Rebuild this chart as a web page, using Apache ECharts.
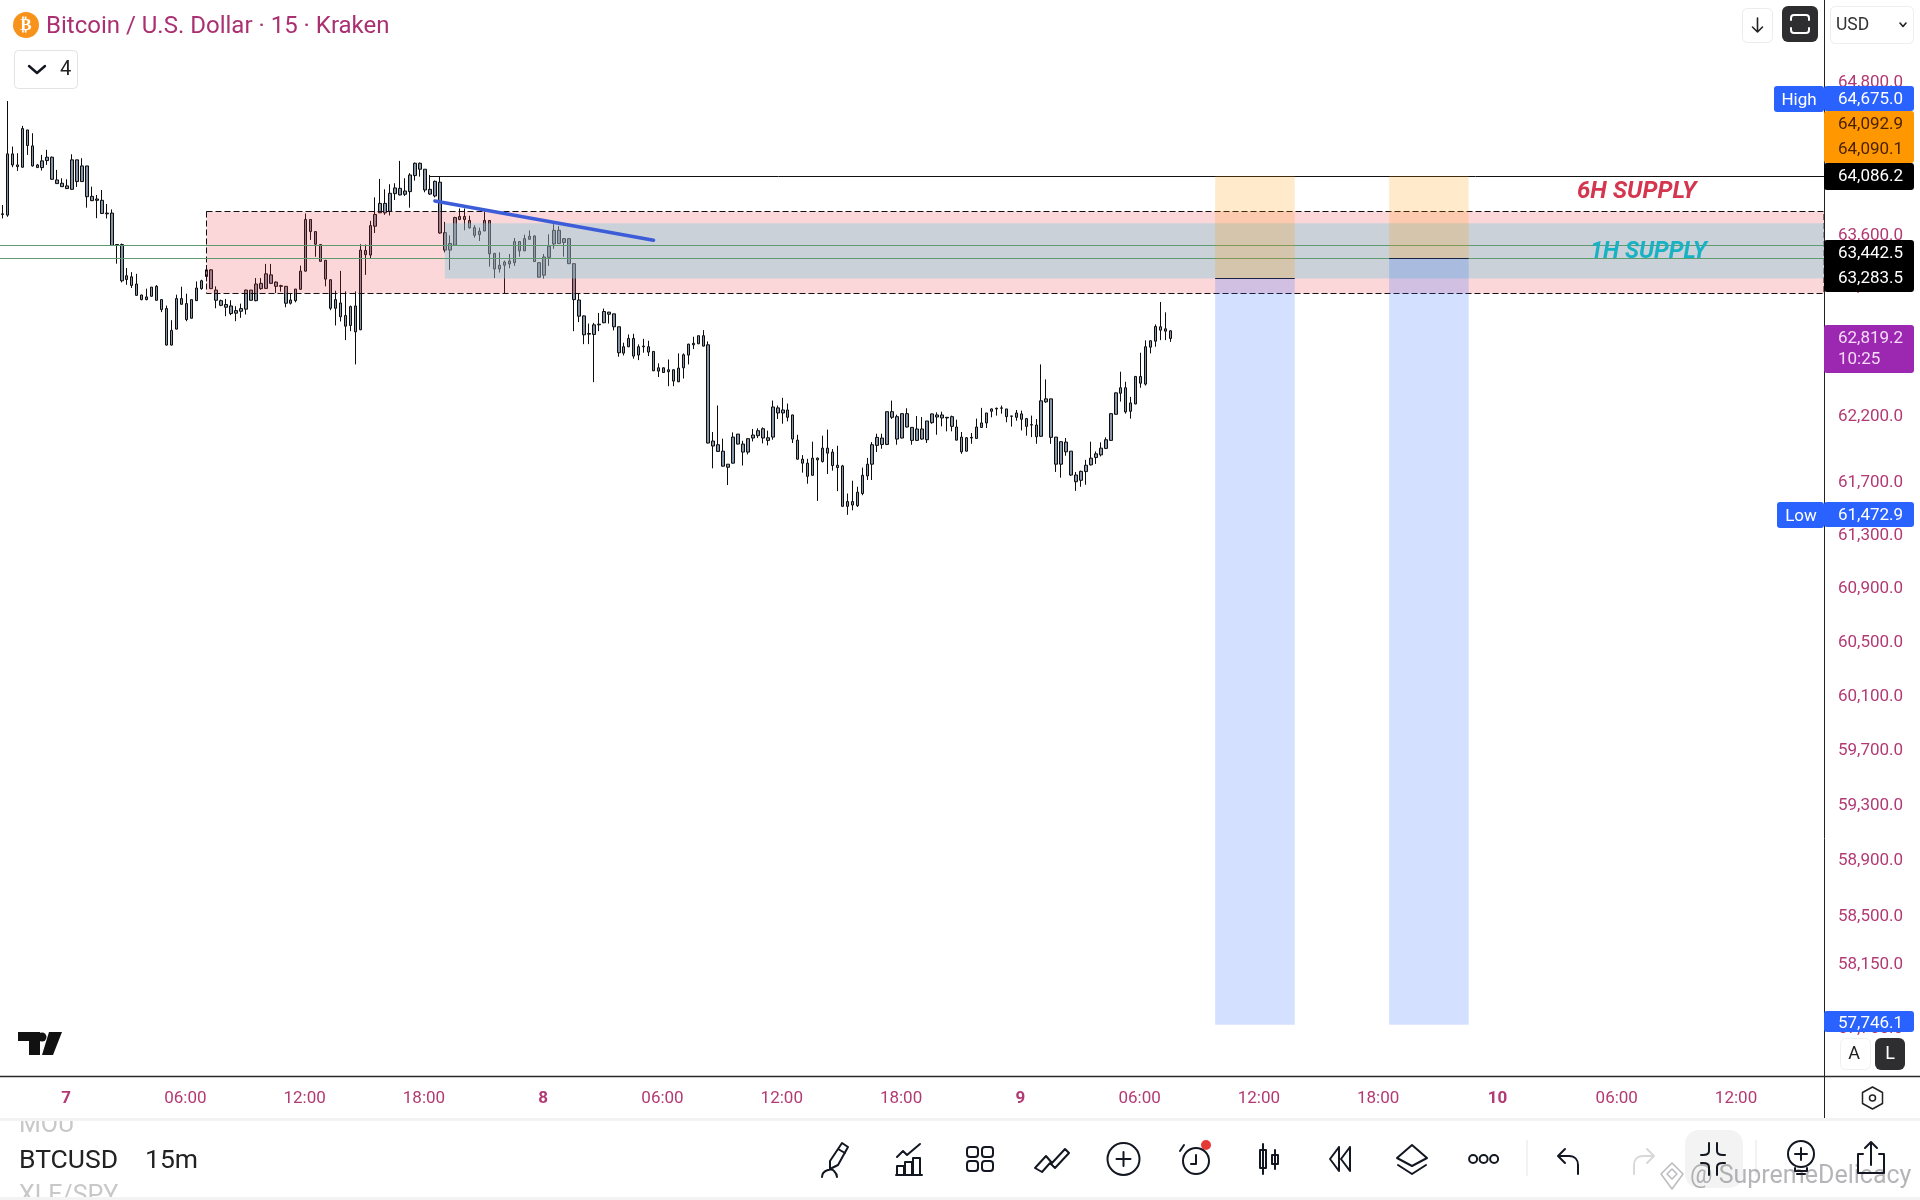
<!DOCTYPE html>
<html><head><meta charset="utf-8">
<style>html,body{margin:0;padding:0;background:#fff}#c{width:1920px;height:1200px}</style>
<script src="https://cdn.jsdelivr.net/npm/echarts@6/dist/echarts.min.js"></script>
</head><body><div id="c"></div>
<script>
const opens=[63768,63758,64239,64152,64134,64428,64302,64152,64131,64186,64213,64034,64008,63987,63960,64192,64021,64144,63905,63884,63874,63774,63774,63528,63528,63256,63277,63221,63136,63100,63126,63203,63100,63031,62749,62872,63108,63069,62956,63092,63185,63279,63331,63174,63092,63062,63051,63015,63010,63026,63174,63092,63226,63187,63292,63236,63208,63203,63097,63092,63180,63321,63724,63629,63528,63405,63254,63033,63074,62977,62900,63051,62867,63482,63446,63671,63776,63850,63787,63926,63968,63921,63942,64068,64165,64118,63960,63908,64016,63621,63485,63523,63747,63747,63716,63660,63605,63634,63716,63459,63367,63367,63377,63387,63551,63479,63569,63595,63387,63290,63428,63533,63639,63574,63574,63379,63097,62974,62833,62831,62905,62921,63003,62990,62890,62687,62736,62800,62672,62741,62736,62700,62574,62574,62544,62559,62467,62574,62672,62751,62759,62821,62751,62014,61986,61937,61838,61846,62067,61991,61930,62037,62055,62108,62039,62044,62267,62228,62251,62213,62021,61876,61846,61754,61884,61858,61960,61930,61830,61825,61519,61555,61524,61616,61749,61838,61981,62037,61988,62238,62200,62037,62223,62118,62019,62106,62024,62154,62197,62213,62195,62200,62121,62044,61937,62037,62034,62118,62152,62241,62259,62264,62259,62205,62195,62221,62185,62139,62136,62050,62313,62336,62044,61838,62006,61937,61756,61716,61782,61833,61889,61909,61958,62019,62218,62379,62421,62241,62297,62508,62449,62733,62779,62890,62874,62859];
const closes=[63763,64239,64152,64139,64439,64305,64144,64131,64184,64213,64039,64005,63981,63966,64192,64021,64144,63902,63871,63874,63771,63768,63521,63523,63246,63285,63210,63133,63100,63121,63197,63095,63023,62749,62862,63108,63064,62946,63100,63190,63246,63331,63185,63095,63056,63041,62992,62995,63031,63174,63095,63221,63185,63300,63226,63203,63203,63072,63072,63182,63321,63724,63629,63531,63397,63259,63033,63100,62967,62895,63046,62851,63485,63449,63676,63763,63850,63776,63929,63971,63916,63947,64073,64165,64118,63955,63923,64023,63618,63485,63536,63739,63724,63724,63658,63600,63632,63716,63456,63338,63338,63392,63400,63551,63479,63574,63592,63395,63274,63431,63515,63639,63536,63544,63379,63100,62972,62828,62838,62905,62910,63008,62987,62890,62690,62736,62800,62664,62736,62736,62695,62551,62549,62538,62559,62472,62572,62674,62756,62762,62821,62741,61999,61976,61935,61823,61815,62044,61991,61930,62032,62060,62093,62037,62019,62274,62228,62251,62195,62029,61876,61846,61746,61884,61871,61960,61922,61828,61812,61519,61555,61529,61626,61754,61838,61986,62042,61988,62238,62195,62029,62223,62121,62019,62106,62029,62167,62221,62213,62190,62190,62126,62021,61932,62039,62042,62121,62152,62228,62259,62264,62267,62200,62203,62228,62180,62126,62136,62047,62321,62336,62042,61838,62009,61932,61756,61705,61784,61830,61884,61917,61960,62024,62223,62382,62421,62236,62305,62508,62456,62736,62782,62892,62864,62856,62800];
const lows=[63732,63745,64134,64105,64131,64231,64139,64129,64108,64152,64034,64002,63979,63963,63958,63979,64018,63816,63868,63734,63766,63732,63518,63379,63233,63215,63190,63131,63095,63095,63123,63092,63003,62746,62746,62869,63062,62933,62954,63090,63177,63241,63182,63033,63049,62972,62980,62933,62959,62985,63092,63087,63177,63185,63223,63151,63162,63041,63062,63079,63177,63318,63564,63433,63395,63203,63018,62900,62931,62787,62856,62600,62864,63292,63421,63618,63774,63760,63755,63876,63913,63908,63816,64029,64060,63937,63916,63897,63613,63467,63331,63521,63718,63639,63653,63582,63556,63632,63356,63267,63310,63151,63344,63362,63433,63477,63567,63392,63272,63264,63362,63495,63533,63433,63377,62856,62926,62756,62756,62464,62856,62918,62915,62862,62659,62669,62733,62644,62633,62690,62664,62549,62503,62536,62433,62433,62464,62492,62600,62718,62756,62738,61996,61807,61932,61820,61680,61843,61988,61828,61912,62011,62037,61996,61981,62024,62182,62146,62164,61999,61874,61774,61690,61751,61560,61851,61764,61789,61634,61517,61455,61489,61514,61603,61718,61718,61930,61955,61983,62182,61986,62034,62118,61986,62014,62024,61999,62146,62062,62126,62088,62088,62019,61917,61935,61993,62032,62116,62113,62195,62208,62223,62157,62124,62169,62095,62055,62044,61993,62047,62305,61993,61779,61736,61902,61749,61636,61667,61682,61828,61840,61897,61953,62016,62215,62315,62223,62185,62295,62421,62438,62685,62736,62787,62787,62774];
const highs=[63837,64657,64297,64244,64460,64428,64402,64160,64231,64271,64218,64113,64047,64039,64236,64192,64205,64144,63981,63916,63955,63845,63803,63531,63536,63346,63313,63300,63138,63185,63197,63213,63100,63054,62941,63138,63200,63146,63100,63241,63254,63369,63336,63203,63100,63105,63095,63049,63069,63177,63174,63267,63267,63377,63377,63241,63215,63205,63151,63182,63364,63771,63724,63632,63531,63408,63259,63169,63323,63164,63054,63164,63531,63528,63713,63897,64042,63960,64000,64008,64184,64047,64087,64171,64171,64118,64073,64029,64060,63705,63600,63745,63810,63810,63753,63679,63660,63787,63716,63459,63467,63403,63454,63579,63554,63605,63639,63600,63387,63454,63608,63687,63671,63579,63577,63382,63151,62977,62915,62920,62997,63031,63005,62990,62890,62767,62831,62836,62754,62797,62782,62700,62608,62577,62638,62562,62685,62685,62759,62813,62821,62864,62777,62083,62285,62032,61838,62080,62067,62016,62037,62106,62111,62118,62093,62323,62285,62344,62300,62215,62062,61907,61879,62009,61889,62055,62101,61953,61978,61833,61616,61713,61667,61812,61886,62006,62070,62070,62238,62323,62215,62223,62264,62121,62205,62197,62167,62223,62233,62238,62197,62208,62177,62083,62044,62075,62185,62267,62228,62262,62269,62285,62259,62205,62251,62246,62190,62208,62182,62600,62485,62336,62044,62011,62037,61937,61779,61789,61871,62009,61935,62004,62042,62226,62385,62544,62467,62351,62510,62690,62785,62785,62908,63082,63002,62862];
const priceTicks=[64800,64400,64000,63600,63200,62700,62200,61700,61300,60900,60500,60100,59700,59300,58900,58500,58150,57700];
const timeTickLabels=['7','06:00','12:00','18:00','8','06:00','12:00','18:00','9','06:00','12:00','18:00','10','06:00','12:00'];
const firstTickSlot=13, slotsPerTick=24, totalSlots=367;
const categories=[]; const tickOfCategory={};
for(let i=0;i<totalSlots;i++){const id='slot'+i;categories.push(id);
  const k=(i-firstTickSlot)/slotsPerTick;
  if(Number.isInteger(k)&&timeTickLabels[k]!==undefined) tickOfCategory[id]=timeTickLabels[k];}

const zone6H={start:41,top:63787,bottom:63152};
const zone1H={start:89,top:63695,bottom:63264};
const greenLevels=[63523,63423];
const stopLevel=64064, stopLineStart=86;
const targetLevel=57726;
const positions=[{from:244,to:260,entry:63265},{from:279,to:295,entry:63423}];
const trend={from:87,fromPrice:63868,to:131,toPrice:63562};

const annotations=[];
annotations.push({k:'rect',crisp:true,i0:zone6H.start,a:zone6H.top,b:zone6H.bottom,style:{fill:'rgba(242,54,69,0.2)',stroke:'#111',lineWidth:1,lineDash:[6,3]}});
annotations.push({k:'rect',i0:zone1H.start,a:zone1H.top,b:zone1H.bottom,style:{fill:'rgba(127,200,213,0.4)'}});
greenLevels.forEach(v=>annotations.push({k:'line',i0:0,a:v,b:v,full:true,style:{stroke:'#5f9a70',lineWidth:1}}));
annotations.push({k:'line',i0:stopLineStart,a:stopLevel,b:stopLevel,style:{stroke:'#111',lineWidth:1}});
positions.forEach(p=>{
  annotations.push({k:'rect',i0:p.from,i1:p.to,a:stopLevel,b:p.entry,style:{fill:'rgba(255,152,0,0.2)'}});
  annotations.push({k:'rect',i0:p.from,i1:p.to,a:p.entry,b:targetLevel,style:{fill:'rgba(41,98,255,0.2)'}});
  annotations.push({k:'line',i0:p.from,i1:p.to,a:p.entry,b:p.entry,style:{stroke:'#1c2340',lineWidth:1}});
});
annotations.push({k:'line',i0:trend.from,i1:trend.to,a:trend.fromPrice,b:trend.toPrice,style:{stroke:'#3c5cd8',lineWidth:3.5,lineCap:'round'}});

function renderAnnotation(params,api){
  const r=annotations[params.dataIndex], cs=params.coordSys;
  const p0=api.coord([r.i0,r.a]);
  const p1=api.coord([r.i1==null?totalSlots-1:r.i1,r.b]);
  const x0=r.full?cs.x:p0[0];
  const x1=r.i1==null?cs.x+cs.width:p1[0];
  if(r.k==='rect'){
    if(r.crisp){const X=Math.floor(x0)+.5,T=Math.round(p0[1])+.5,B=Math.round(p1[1])+.5;
      return {type:'rect',shape:{x:X,y:T,width:x1-X,height:B-T},style:r.style};}
    return {type:'rect',shape:{x:x0,y:p0[1],width:x1-x0,height:p1[1]-p0[1]},style:r.style};
  }
  const flat=r.a===r.b;
  const y0=flat?Math.round(p0[1])+.5:p0[1], y1=flat?y0:p1[1];
  return {type:'line',shape:{x1:x0,y1:y0,x2:x1,y2:y1},style:r.style};
}

const F='Roboto', MAG='#b23a74';
const g=[], iconEls=[];
function rect(x,y,w,h,fill,r,stroke){g.push({type:'rect',z:100,shape:{x,y,width:w,height:h,r:r||0},style:{fill:fill||'none',stroke:stroke||null,lineWidth:1}});}
function txt(x,y,t,size,fill,o){g.push({type:'text',z:100,x,y,style:Object.assign({text:t,fontFamily:F,fontSize:size,fill,verticalAlign:'middle',align:'left'},o||{})});}
function icon(x,y,d,stroke,lw,fill){iconEls.push({type:'path',x,y,shape:{pathData:d},style:{fill:fill||'none',stroke:stroke===undefined?'#131722':stroke,lineWidth:lw===undefined?2:lw,lineCap:'round',lineJoin:'round'}});}
function circ(x,y,r,fill,stroke,lw){g.push({type:'circle',z:100,shape:{cx:x,cy:y,r},style:{fill:fill||'none',stroke:stroke||null,lineWidth:lw||2}});}
function line(x1,y1,x2,y2,c,w){g.push({type:'line',z:100,shape:{x1,y1,x2,y2},style:{stroke:c,lineWidth:w||1}});}

// header
circ(26,25,13,'#f7931a');
txt(26,26,'₿',17,'#fff',{align:'center',fontFamily:'DejaVu Sans',fontWeight:'bold'});
txt(46,27,'Bitcoin / U.S. Dollar · 15 · Kraken',24,'#ab3071');
rect(14.5,50.5,63,38,'#fff',4,'#e3e3e3');
icon(37,69,'M-8,-3 L0,4 L8,-3','#131722',2.4);
txt(60,70,'4',20,'#222');
rect(1742.5,8.5,30,34,'#fff',5,'#ececec');
icon(1757.5,25,'M0,-7 V7 M-5,2 L0,7 L5,2','#222',1.6);
rect(1782,6,36,36,'#2e2e30',6);
icon(1800,24,'M-9,-4 V-6 C-9,-8 -8,-9 -6,-9 H6 C8,-9 9,-8 9,-6 V-4 M-9,4 V6 C-9,8 -8,9 -6,9 H6 C8,9 9,8 9,6 V4','#fff',2);
rect(1830.5,6.5,83,37,'#fff',5,'#ededed');
txt(1836,25.5,'USD',17.5,'#333');
icon(1903,25,'M-3,-2 L0,1.5 L3,-2','#222',1.6);

// structural lines
line(1824.5,0,1824.5,1118,'#222',1);
line(0,1076.5,1920,1076.5,'#2a2a2a',1.5);

// price tags
function tagBox(y,h,c){rect(1824,y,90,h,c,3);}
rect(1774,86,50,26,'#2962ff',3); txt(1799,100.5,'High',17,'#fff',{align:'center'});
tagBox(86,25,'#2962ff'); txt(1838,100,'64,675.0',17,'#fff');
tagBox(111,52,'#ff9800'); txt(1838,124.5,'64,092.9',17,'#4a2200'); txt(1838,150,'64,090.1',17,'#4a2200');
tagBox(163,27,'#000'); txt(1838,176.5,'64,086.2',17,'#fff');
tagBox(240,52,'#000'); txt(1838,253.5,'63,442.5',17,'#fff'); txt(1838,278.5,'63,283.5',17,'#fff');
tagBox(325,48,'#9c27b0'); txt(1838,338.5,'62,819.2',17,'#f6dcf9'); txt(1838,359.5,'10:25',17,'#f6dcf9');
rect(1777,502,47,26,'#2962ff',3); txt(1801,516.5,'Low',17,'#fff',{align:'center'});
tagBox(502,25,'#2962ff'); txt(1838,516,'61,472.9',17,'#fff');
tagBox(1011,21,'#2962ff'); txt(1838,1023.5,'57,746.1',17,'#fff');

// A / L
rect(1840.5,1038.5,30,31,'#fff',5,'#f0f0f0'); txt(1854,1054,'A',18,'#222',{align:'center'});
rect(1875,1038,30,32,'#2e2e30',6); txt(1890,1054,'L',18,'#fff',{align:'center'});
icon(1872.5,1098,'M0,-11 L10,-5.5 V5.5 L0,11 L-10,5.5 V-5.5 Z','#222',1.5);
circ(1872.5,1098,3,null,'#222',1.5);

// logo
icon(18,1032,'M0,0 H22 V23 H11 V9 H0 Z M31,0 H44 L35,23 H24 Z',null,0,'#111');
circ(44,1036.5,4.5,'#fff');
circ(42,1037,4.5,'#111');

// annotation text
txt(1577,192,'6H SUPPLY',24,'#d4364f',{fontWeight:'bold',fontStyle:'italic'});
txt(1590,252,'1H SUPPLY',23.5,'#17b2c4',{fontWeight:'bold',fontStyle:'italic'});

// bottom panel
txt(19,1126,'MOU',25,'#c8c8c8');
txt(19,1197,'XLE/SPY',25,'#c8c8c8');
rect(0,1108,200,11,'#fff');
rect(0,1118,1920,3,'#f3f3f3');
rect(0,1197,1920,3,'#f3f3f3');
txt(19,1161.5,'BTCUSD',26.5,'#222');
txt(145,1161.5,'15m',26.5,'#222');
const Y=1159;
icon(836,Y,'M6,-16 L12,-12 L2,6 L-6,10 L-6,2 Z M2,-10 L9,-6 M-14,18 C-14,11 -4,9 -2,12 C0,14 1,16 1,18');
icon(909,Y,'M-13,16 H13 M-12,16 V7 H-5 V16 M-4,16 V3 H3 V16 M4,16 V-1 H11 V16 M-12,-2 L-6,-8 L-2,-4 L11,-15');
[[-13,-12],[2,-12],[-13,2],[2,2]].forEach(o=>icon(980+o[0],Y+o[1],'M3,0 H8 Q11,0 11,3 V7 Q11,10 8,10 H3 Q0,10 0,7 V3 Q0,0 3,0 Z'));
icon(1052,Y,'M-17,9 L-6,-3 L0,4 L13,-10 L17,-6 L3,9 L-2,4 L-10,13 Z');
icon(1123.5,Y,'M16,0 A16,16 0 1 1 -16,0 A16,16 0 1 1 16,0 M-7,0 H7 M0,-7 V7');
icon(1196,Y+2,'M13,0 A13,13 0 1 1 -13,0 A13,13 0 1 1 13,0 M0,-6 V3 H-5 M-12,-16 L-16,-10');
circ(1206,Y-14,5,'#e53935');
icon(1269,Y,'M-6,-15 V15 M-9,-9 H-3 V9 H-9 Z M6,-9 V10 M3,-4 H9 V5 H3 Z');
icon(1341,Y,'M-2,-12 L-11,0 L-2,12 M9,-12 L0,0 L9,12 V-12 M-2,-12 V12','#131722',2);
icon(1412,Y,'M0,-14 L15,-1 L0,7 L-15,-1 Z M-14,6 L0,15 L14,6');
[-10.5,0,10.5].forEach(d=>circ(1483.6+d,Y,4,null,'#131722',2));
line(1527,1140,1527,1176,'#eee',1.5);
icon(1569,Y,'M9,15 V6 C9,1 6,-3 0,-3 H-10 M-4,-10 L-11,-3 L-4,4');
icon(1643,Y,'M-9,15 V6 C-9,1 -6,-3 0,-3 H10 M4,-10 L11,-3 L4,4','#d8d8d8');
rect(1685,1130,58,58,'#f3f3f3',14);
icon(1713,Y,'M-4,-16 V-8 C-4,-5 -7,-4 -10,-4 H-12 M4,-16 V-8 C4,-5 7,-4 10,-4 H12 M-4,16 V8 C-4,5 -7,4 -10,4 H-12 M4,16 V8 C4,5 7,4 10,4 H12');
line(1756,1140,1756,1176,'#eee',1.5);
icon(1801,Y,'M13,-5 A13,13 0 1 1 -13,-5 A13,13 0 1 1 13,-5 M-6,-5 H6 M0,-11 V1 M-6,9 V12 H6 V9 M-4,15 H4');
icon(1871,Y,'M-8,-5 H-13 V14 H13 V-5 H8 M0,6 V-17 M-6,-11 L0,-17 L6,-11');

// watermark
icon(1672,1176,'M0,-13 L11,-2 L0,13 L-11,-2 Z M-5,-2 L0,3 L5,-2 L0,-7 Z','rgba(120,120,125,.5)',1.5);
txt(1690,1177,'@ SupremeDelicacy',25,'rgba(120,120,125,.55)');

const chart=echarts.init(document.getElementById('c'),null,{renderer:'canvas',width:1920,height:1200});
chart.setOption({
  animation:false,
  backgroundColor:'#fff',
  grid:{left:-1.7,right:96,top:0,bottom:124,containLabel:false},
  tooltip:{show:false},
  xAxis:{type:'category',data:categories,boundaryGap:true,
    axisLine:{show:false},axisTick:{show:false},splitLine:{show:false},
    axisLabel:{interval:(i,v)=>tickOfCategory[v]!==undefined,margin:14,padding:[0,2,0,0],color:MAG,fontFamily:F,fontSize:17,hideOverlap:false,
      formatter:v=>{const t=tickOfCategory[v]||'';return /^\d+$/.test(t)?'{day|'+t+'}':t;},
      rich:{day:{fontFamily:F,fontSize:17,fontWeight:'bold',color:MAG}}}},
  yAxis:{type:'log',logBase:10,min:57364,max:65464,position:'right',
    axisLine:{show:false},axisTick:{show:false},splitLine:{show:false},
    axisLabel:{customValues:priceTicks,inside:false,margin:14,padding:[5,0,0,0],verticalAlign:'middle',color:MAG,fontFamily:F,fontSize:17,hideOverlap:false,
      formatter:v=>Number(v).toLocaleString('en-US',{minimumFractionDigits:1,maximumFractionDigits:1})}},
  series:[
    {type:'candlestick',z:2,barWidth:3,
      data:opens.map((o,i)=>[o,closes[i],lows[i],highs[i]]),
      itemStyle:{color:'#8494a6',color0:'#8494a6',borderColor:'#0c0c0c',borderColor0:'#0c0c0c',borderWidth:1},
      clip:true},
    {type:'custom',z:5,renderItem:renderAnnotation,clip:true,silent:true,
      encode:{x:0,y:1},data:annotations.map((a,i)=>[i,a.a])},
    {type:'custom',coordinateSystem:'none',z:200,silent:true,data:[[0]],
      renderItem:()=>({type:'group',children:iconEls})}
  ],
  graphic:{elements:g}
});
</script></body></html>
